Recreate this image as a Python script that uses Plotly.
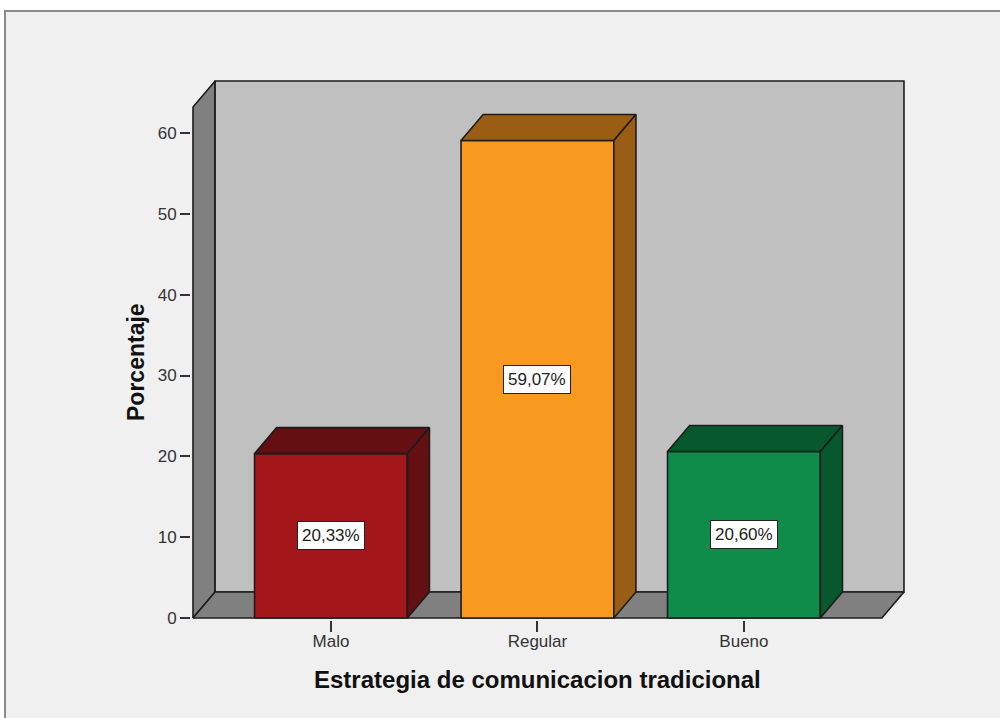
import plotly.graph_objects as go

categorias = ["Malo", "Regular", "Bueno"]
porcentajes = [20.33, 59.07, 20.60]
etiquetas = ["20,33%", "59,07%", "20,60%"]
colores_frente = ["#a3171b", "#f89a1f", "#0f8c4a"]
colores_lado = ["#640f11", "#9b5d13", "#07582c"]
y_ticks = [0, 10, 20, 30, 40, 50, 60]

# caja 3D falsa (unidades de los ejes)
x_ini, x_fin = -0.668, 2.668
prof_x, prof_y = 0.107, 3.22
y_max = 66.43
medio_ancho = 0.37
borde = "#1c1c1c"

fig = go.Figure()


def poligono(xs, ys, color):
    fig.add_trace(go.Scatter(
        x=xs + [xs[0]], y=ys + [ys[0]],
        mode="lines", fill="toself", fillcolor=color,
        line=dict(color=borde, width=1.6),
        hoverinfo="skip", showlegend=False
    ))


# paredes y piso
poligono([x_ini, x_ini + prof_x, x_ini + prof_x, x_ini],
         [0, prof_y, y_max, y_max - prof_y], "#808080")
poligono([x_ini + prof_x, x_fin + prof_x, x_fin + prof_x, x_ini + prof_x],
         [prof_y, prof_y, y_max, y_max], "#c0c0c0")
poligono([x_ini, x_fin, x_fin + prof_x, x_ini + prof_x],
         [0, 0, prof_y, prof_y], "#808080")

# barras
for i, v in enumerate(porcentajes):
    a, b = i - medio_ancho, i + medio_ancho
    poligono([a, b, b, a], [0, 0, v, v], colores_frente[i])
    poligono([a, a + prof_x, b + prof_x, b], [v, v + prof_y, v + prof_y, v], colores_lado[i])
    poligono([b, b + prof_x, b + prof_x, b], [0, prof_y, v + prof_y, v], colores_lado[i])

anotaciones = []
for i, v in enumerate(porcentajes):
    anotaciones.append(dict(
        x=i, y=v / 2, text=etiquetas[i], showarrow=False,
        bgcolor="white", bordercolor="#222", borderwidth=1, borderpad=4,
        font=dict(family="Arial", size=17, color="#222")
    ))

# marco exterior (coordenadas paper)
L, R, T, B = 191, 905, 79, 620


def px(xp):
    return (xp - L) / (R - L)


def py(yp):
    return (B - yp) / (B - T)


# titulos de los ejes
anotaciones.append(dict(
    text="<b>Estrategia de comunicacion tradicional</b>", showarrow=False,
    xref="paper", yref="paper", x=px(537), y=py(679),
    xanchor="center", yanchor="middle",
    font=dict(size=24, color="#111")
))
anotaciones.append(dict(
    text="<b>Porcentaje</b>", showarrow=False, textangle=-90,
    xref="paper", yref="paper", x=px(136), y=py(362),
    xanchor="center", yanchor="middle",
    font=dict(size=23, color="#111")
))

marco = dict(type="rect", xref="paper", yref="paper", layer="below",
             x0=px(5), x1=px(1010), y0=py(730), y1=py(11),
             fillcolor="#f0f0f0", line=dict(color="#8a8a8a", width=2))

esc_y = 8.083
esc_x = 206.5

fig.update_layout(
    width=1000, height=718,
    margin=dict(l=L, r=1000 - R, t=T, b=718 - B),
    paper_bgcolor="white",
    plot_bgcolor="rgba(0,0,0,0)",
    font=dict(family="Arial", color="#333"),
    shapes=[marco],
    annotations=anotaciones,
    xaxis=dict(
        range=[x_ini - 2 / esc_x, x_ini + (R - 193) / esc_x],
        tickvals=[0, 1, 2], ticktext=categorias,
        ticks="outside", ticklen=11, tickwidth=1.5, tickcolor="#333",
        ticklabelstandoff=-5,
        showgrid=False, zeroline=False, showline=False,
        tickfont=dict(size=17, color="#333"),
    ),
    yaxis=dict(
        range=[-2 / esc_y, (618 - T) / esc_y],
        tickvals=y_ticks,
        ticks="outside", ticklen=10, tickwidth=1.5, tickcolor="#333",
        showgrid=False, zeroline=False, showline=False,
        tickfont=dict(size=17, color="#333"),
    ),
)

# sin el margen por defecto del <body>
fig.write_html("out.html", config={"displayModeBar": False},
               post_script="document.body.style.margin='0';")
